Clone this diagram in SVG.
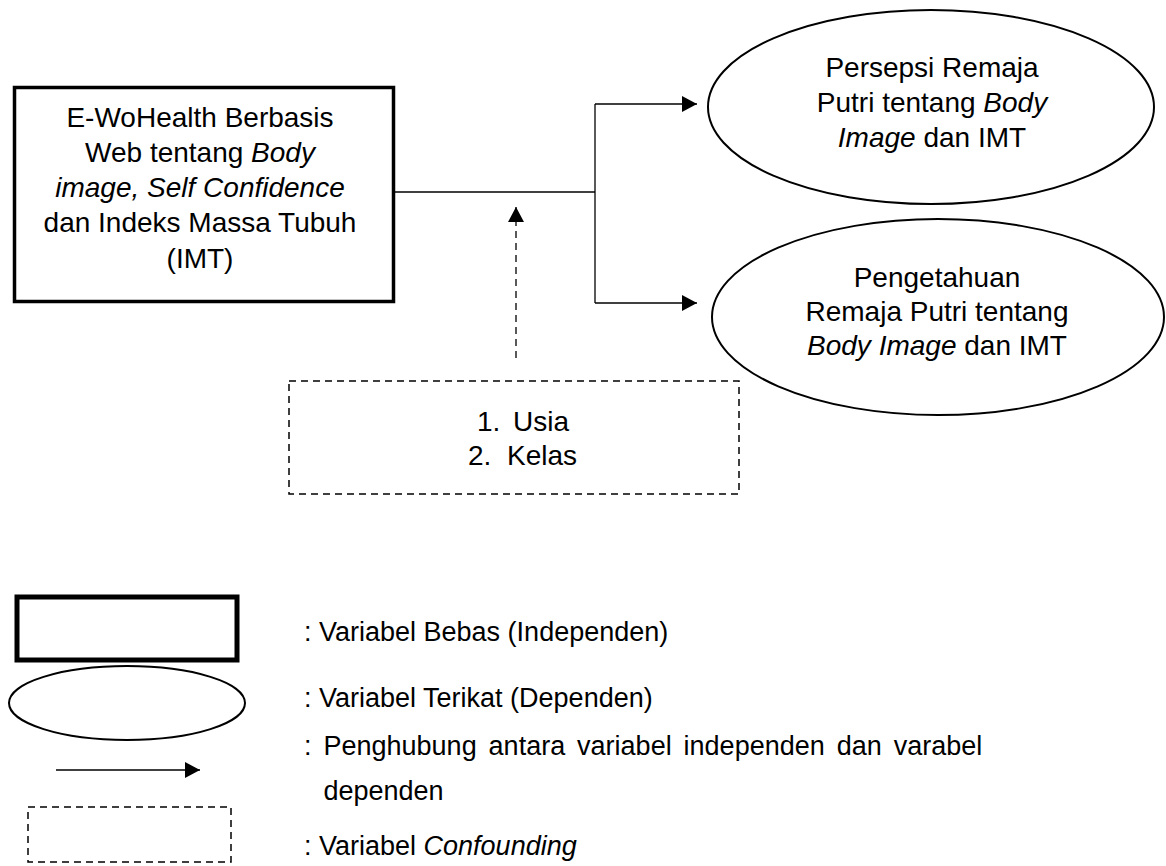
<svg xmlns="http://www.w3.org/2000/svg" width="1166" height="866" viewBox="0 0 1166 866">
<style>
  text { font-family: "Liberation Sans", Arial, sans-serif; font-size: 28px; fill: #000; }
  .c { text-anchor: middle; }
  .i { font-style: italic; }
  .lg { font-size: 27px; }
  .thick { fill: #fff; stroke: #000; stroke-width: 3.5; }
  .ell { fill: #fff; stroke: #000; stroke-width: 2; }
  .dash { fill: none; stroke: #000; stroke-width: 1.5; stroke-dasharray: 7 5; }
  .conn { fill: none; stroke: #000; stroke-width: 1.3; }
</style>
<defs>
  <marker id="ah" markerUnits="userSpaceOnUse" markerWidth="16" markerHeight="18" refX="15" refY="8" orient="auto">
    <path d="M0,0 L15,8 L0,16 Z" fill="#000"/>
  </marker>
</defs>
<rect width="1166" height="866" fill="#fff"/>

<g id="independen">
  <rect class="thick" x="14.5" y="87.5" width="379" height="214"/>
  <text class="c" x="200" y="127">E-WoHealth Berbasis</text>
  <text class="c" x="200" y="162">Web tentang <tspan class="i">Body</tspan></text>
  <text class="c i" x="200" y="197">image, Self Confidence</text>
  <text class="c" x="200" y="232">dan Indeks Massa Tubuh</text>
  <text class="c" x="200" y="268">(IMT)</text>
</g>

<g id="dependen1">
  <ellipse class="ell" cx="931" cy="107" rx="223" ry="97"/>
  <text class="c" x="932" y="77">Persepsi Remaja</text>
  <text class="c" x="932" y="112">Putri tentang <tspan class="i">Body</tspan></text>
  <text class="c" x="932" y="147"><tspan class="i">Image</tspan> dan IMT</text>
</g>

<g id="dependen2">
  <ellipse class="ell" cx="938" cy="317" rx="226" ry="98"/>
  <text class="c" x="937" y="287">Pengetahuan</text>
  <text class="c" x="937" y="321">Remaja Putri tentang</text>
  <text class="c" x="937" y="355"><tspan class="i">Body Image</tspan> dan IMT</text>
</g>

<g id="confounding">
  <rect class="dash" x="289" y="381" width="450" height="113"/>
  <text x="477" y="431">1.</text><text x="513" y="431">Usia</text>
  <text x="468" y="465">2.</text><text x="507" y="465">Kelas</text>
</g>

<g id="connectors">
  <line class="conn" x1="395" y1="192" x2="595" y2="192"/>
  <line class="conn" x1="595" y1="104" x2="595" y2="303"/>
  <line class="conn" x1="595" y1="104" x2="697" y2="104" marker-end="url(#ah)"/>
  <line class="conn" x1="595" y1="303" x2="697" y2="303" marker-end="url(#ah)"/>
  <line class="conn" x1="516" y1="358" x2="516" y2="207" stroke-dasharray="7 5" marker-end="url(#ah)"/>
</g>

<g id="legend">
  <rect x="17" y="597" width="220" height="63" fill="#fff" stroke="#000" stroke-width="5"/>
  <ellipse class="ell" cx="127" cy="703" rx="118" ry="37"/>
  <line class="conn" x1="56" y1="770" x2="200" y2="770" marker-end="url(#ah)"/>
  <rect class="dash" x="28" y="807" width="203" height="55"/>
  <text class="lg" x="304" y="641">: Variabel Bebas (Independen)</text>
  <text class="lg" x="304" y="707">: Variabel Terikat (Dependen)</text>
  <text class="lg" y="755"><tspan x="304">:</tspan><tspan x="323.5">Penghubung</tspan><tspan x="488.6">antara</tspan><tspan x="577.1">variabel</tspan><tspan x="683.6">independen</tspan><tspan x="836.7">dan</tspan><tspan x="893.7">varabel</tspan></text>
  <text class="lg" x="323.5" y="800">dependen</text>
  <text class="lg" x="304" y="855">: Variabel <tspan class="i">Confounding</tspan></text>
</g>
</svg>
